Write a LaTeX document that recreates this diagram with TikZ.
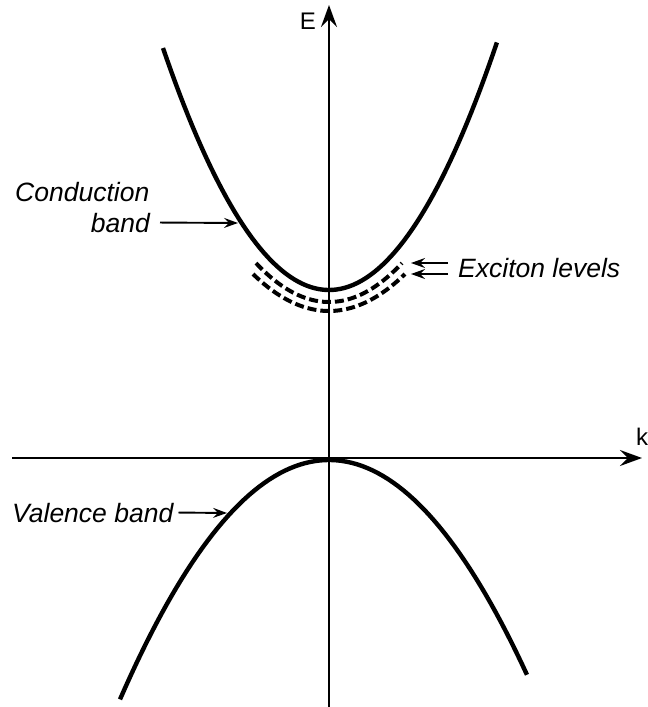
\documentclass[tikz,border=0pt]{standalone}
\usepackage{fontspec}
\setmainfont{Liberation Sans}
\usetikzlibrary{arrows.meta}
\begin{document}
\begin{tikzpicture}[x=1pt,y=-1pt,
  axis/.style={line width=2pt,-{Stealth[length=22pt,width=16pt,inset=8pt]}},
  band/.style={line width=4.4pt},
  exc/.style={line width=4pt,dash pattern=on 9pt off 4pt},
  lbl/.style={font=\fontsize{26.5}{31}\selectfont\itshape, inner sep=0pt},
  axlbl/.style={font=\fontsize{24}{28}\selectfont, inner sep=0pt},
  ptr/.style={line width=1.9pt,-{Stealth[length=14pt,width=10pt,inset=5pt]}}]
\useasboundingbox (0,0) rectangle (648,707);
% axes
\coordinate (kL) at (12,458);
\coordinate (kR) at (642,458);
\coordinate (Eb) at (329,707);
\coordinate (Et) at (329,5);
\draw[axis] (kL) -- (kR);
\draw[axis] (Eb) -- (Et);
\node[axlbl] (Elab) at (308,21) {E};
\node[axlbl] (klab) at (642,437) {k};
% bands
\draw[band] plot[domain=-1.66:1.68,samples=80] ({329+100*\x},{290-87.8*\x*\x});
\draw[band] plot[domain=-2.09:1.98,samples=80] ({329+100*\x},{460+54.8*\x*\x});
% exciton levels
\draw[exc] plot[domain=-0.73:0.73,samples=40] ({329+100*\x},{302-73*\x*\x});
\draw[exc] plot[domain=-0.76:0.76,samples=40] ({329+100*\x},{311-64*\x*\x});
% labels
\node[lbl,anchor=base west] (cond1) at (15,201) {Conduction};
\node[lbl,anchor=base east] (cond2) at (150,232) {band};
\coordinate (cb) at (238,223);
\draw[ptr] ([xshift=10pt]cond2.east) -- (cb);
\node[lbl,anchor=base west] (val) at (12,522) {Valence band};
\coordinate (vb) at (227,513);
\draw[ptr] ([xshift=5pt]val.east) -- (vb);
\node[lbl,anchor=west] (exl) at (458,268.5) {Exciton levels};
\coordinate (x1) at (411,263);
\coordinate (x2) at (411,274);
\draw[ptr] ([xshift=-10pt,yshift=5.5pt]exl.west) -- (x1);
\draw[ptr] ([xshift=-10pt,yshift=-5.5pt]exl.west) -- (x2);
\end{tikzpicture}
\end{document}
